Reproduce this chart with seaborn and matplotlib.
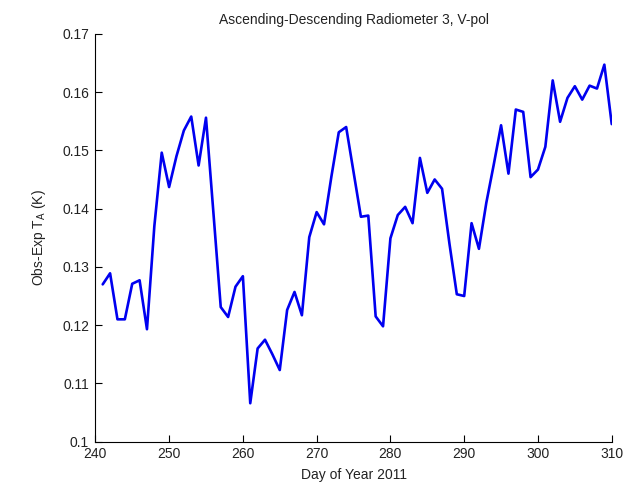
import numpy as np
import pandas as pd
import matplotlib
matplotlib.use('Agg')
import matplotlib.pyplot as plt
import seaborn as sns

# daily values, day 241..310
days = list(range(241, 311))
obs_minus_exp = [
    0.1270, 0.1289, 0.1210, 0.1210, 0.1271, 0.1277, 0.1193, 0.1370, 0.1496, 0.1437,
    0.1490, 0.1534, 0.1558, 0.1474, 0.1556, 0.1394, 0.1231, 0.1214, 0.1266, 0.1284,
    0.1066, 0.1160, 0.1175, 0.1150, 0.1123, 0.1226, 0.1257, 0.1217, 0.1351, 0.1394,
    0.1373, 0.1455, 0.1531, 0.1540, 0.1463, 0.1386, 0.1388, 0.1215, 0.1198, 0.1349,
    0.1389, 0.1403, 0.1375, 0.1487, 0.1427, 0.1450, 0.1434, 0.1340, 0.1253, 0.1250,
    0.1375, 0.1331, 0.1410, 0.1475, 0.1543, 0.1460, 0.1570, 0.1566, 0.1454, 0.1467,
    0.1506, 0.1620, 0.1549, 0.1590, 0.1610, 0.1587, 0.1611, 0.1606, 0.1647, 0.1545,
]

x_ticks = [240, 250, 260, 270, 280, 290, 300, 310]
y_ticks = [0.10, 0.11, 0.12, 0.13, 0.14, 0.15, 0.16, 0.17]
y_ticklabels = ['0.1', '0.11', '0.12', '0.13', '0.14', '0.15', '0.16', '0.17']

sns.set_style('white')
plt.rcParams['font.family'] = ['Liberation Sans', 'DejaVu Sans']
plt.rcParams['xtick.direction'] = 'in'
plt.rcParams['ytick.direction'] = 'in'

df = pd.DataFrame({'day': days, 'val': obs_minus_exp})

fig = plt.figure(figsize=(6.33, 4.84), dpi=100)
ax = fig.add_axes([0.1506, 0.0874, 0.8158, 0.8428])

sns.lineplot(data=df, x='day', y='val', ax=ax, color='#0000f0', linewidth=1.9)

ax.set_xlim(240, 310)
ax.set_ylim(0.10, 0.17)
ax.set_xticks(x_ticks)
ax.set_yticks(y_ticks)
ax.set_yticklabels(y_ticklabels)

for side in ['top', 'right']:
    ax.spines[side].set_visible(False)
for side in ['left', 'bottom']:
    ax.spines[side].set_color('black')
    ax.spines[side].set_linewidth(0.8)

# seaborn's white style hides the ticks, turn them back on
ax.tick_params(axis='both', bottom=True, left=True, direction='in',
               length=5, width=0.8, color='black',
               labelsize=10, labelcolor='#222222')
ax.tick_params(axis='x', pad=3.5)
ax.tick_params(axis='y', pad=4.5)

ax.set_xlabel('Day of Year 2011', fontsize=10, color='#222222', labelpad=5)
ax.set_ylabel('Obs-Exp T$_\\mathregular{A}$ (K)', fontsize=10, color='#222222', labelpad=10)
ax.set_title('Ascending-Descending Radiometer 3, V-pol', fontsize=10, color='#222222', pad=7)

fig.savefig('out.png', dpi=100)
